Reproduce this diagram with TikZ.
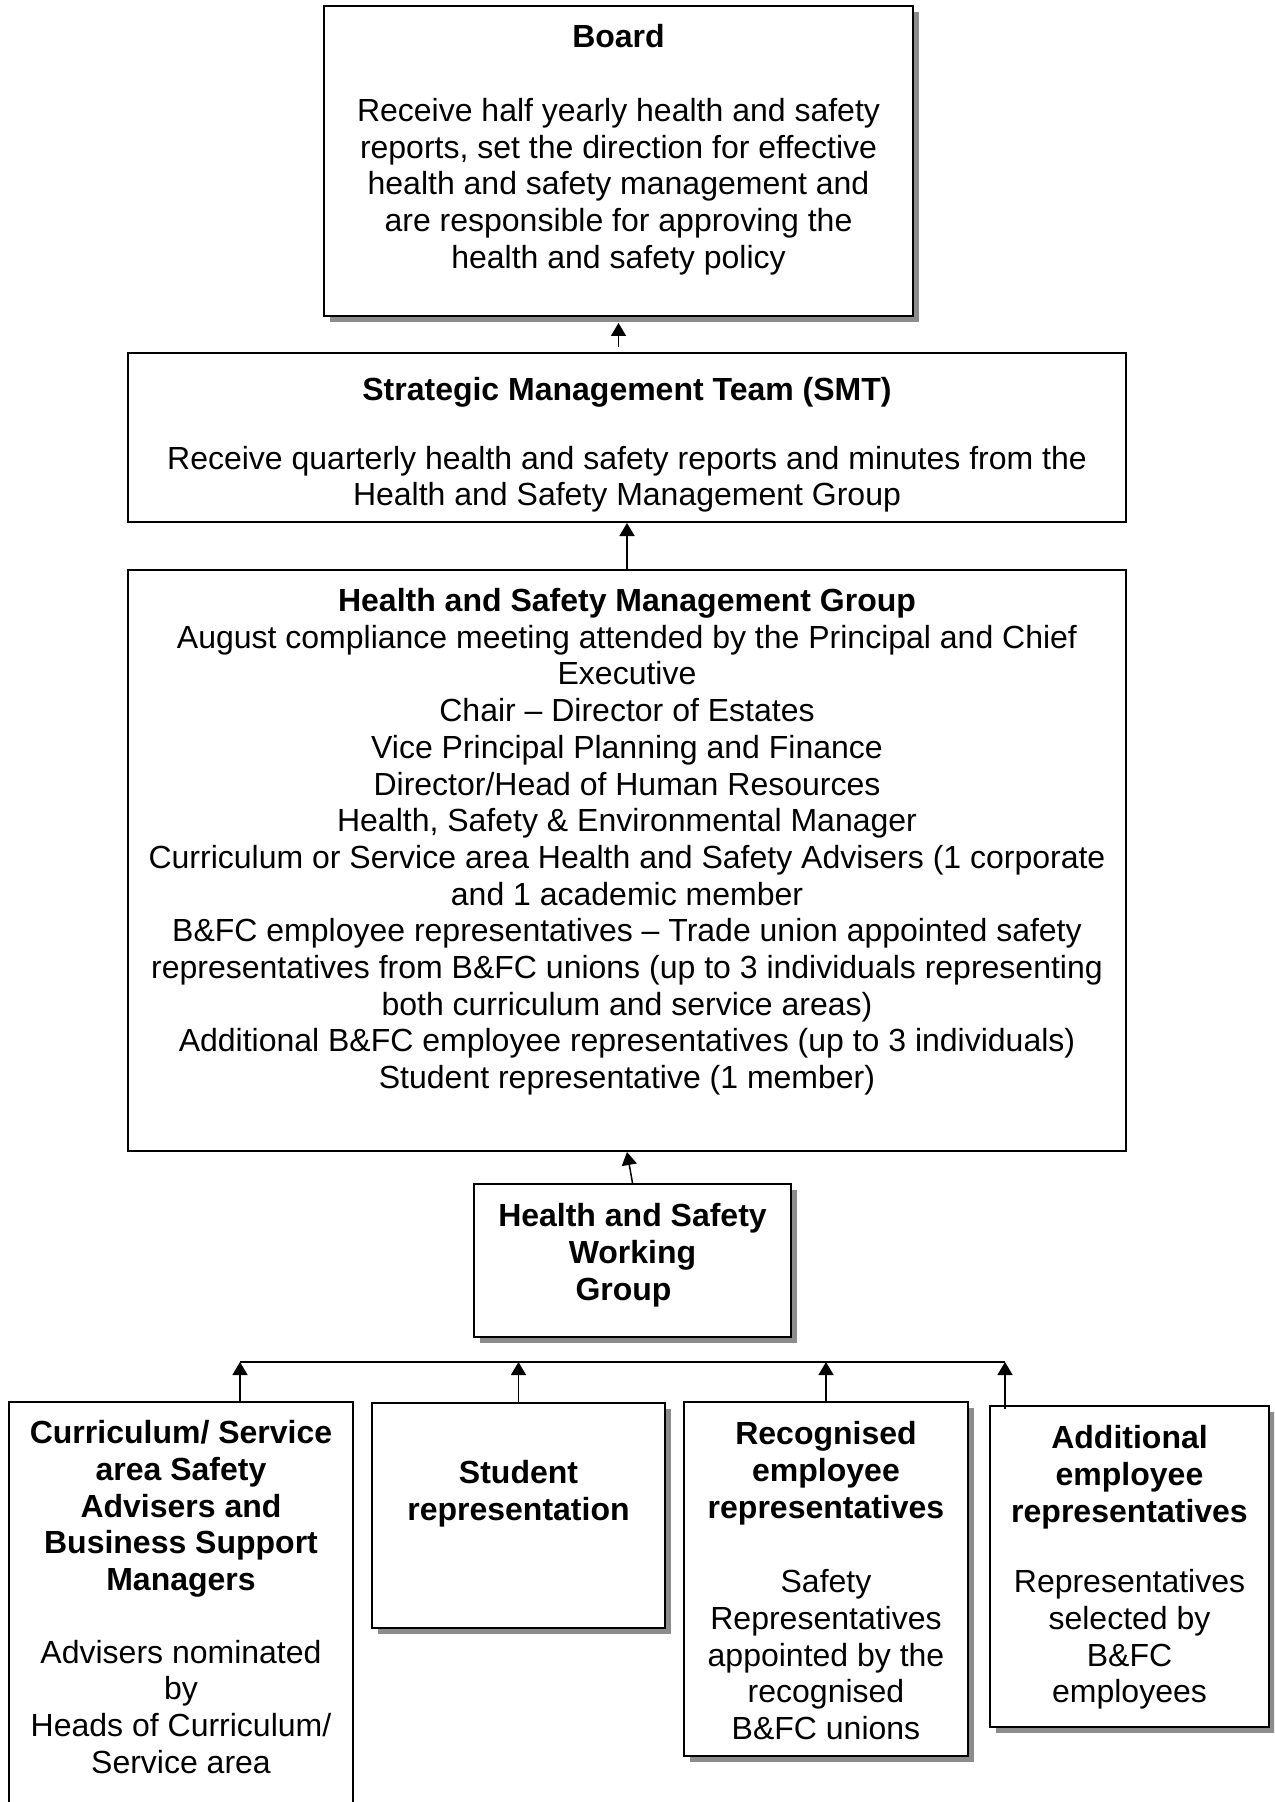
\documentclass[tikz,border=0pt]{standalone}
\usepackage{fontspec}
\setmainfont{Liberation Sans}
\usetikzlibrary{arrows.meta,shadows}
\newcommand{\bodyfont}{\fontsize{16}{18.35}\selectfont}

\begin{document}
\begin{tikzpicture}[x=0.5pt,y=-0.5pt,
  box/.style={draw=black,line width=1pt,fill=white},
  shbox/.style={box,drop shadow={shadow xshift=3pt,shadow yshift=-3pt,fill=black!45,opacity=1}},
  txt/.style={align=center,anchor=north,font=\bodyfont},
  txtb/.style={txt,font=\bodyfont\bfseries},
  arr/.style={-{Triangle[width=7.5pt,length=6.5pt]},line width=0.75pt}]
\tikzstyle{every node}+=[inner sep=0pt]
\useasboundingbox (0,0) rectangle (1274,1802);
\clip (0,0) rectangle (1274,1802);
\node[shbox,minimum width=294.5pt,minimum height=155pt] (board) at (618.5,161) {};
\node[txt] (boardtxt) at (618.5,24) {\textbf{Board}\\[18.6pt]Receive half yearly health and safety\\reports, set the direction for effective\\health and safety management and\\are responsible for approving the\\health and safety policy};
\node[box,minimum width=499pt,minimum height=84.5pt] (smt) at (627,437.5) {};
\node[txt] (smttxt) at (627,377) {\textbf{Strategic Management Team (SMT)}\\[16pt]Receive quarterly health and safety reports and minutes from the\\Health and Safety Management Group};
\node[box,minimum width=499pt,minimum height=290.5pt] (hsmg) at (627,860.5) {};
\node[txt] (hsmgtxt) at (627,588) {\textbf{Health and Safety Management Group}\\August compliance meeting attended by the Principal and Chief\\Executive\\Chair – Director of Estates\\Vice Principal Planning and Finance\\Director/Head of Human Resources\\Health, Safety \& Environmental Manager\\Curriculum or Service area Health and Safety Advisers (1 corporate\\and 1 academic member\\B\&FC employee representatives – Trade union appointed safety\\representatives from B\&FC unions (up to 3 individuals representing\\both curriculum and service areas)\\Additional B\&FC employee representatives (up to 3 individuals)\\Student representative (1 member)};
\node[shbox,minimum width=158.5pt,minimum height=76.5pt] (hswg) at (632.5,1260.5) {};
\node[txtb] (hswgtxt) at (632.5,1203) {Health and Safety\\Working\\Group\hspace*{9pt}};
\node[box,minimum width=172pt,minimum height=224pt] (cur) at (181,1626) {};
\node[txt] (curtxt) at (181,1420) {\textbf{Curriculum/ Service}\\\textbf{area Safety}\\\textbf{Advisers and}\\\textbf{Business Support}\\\textbf{Managers}\\[18pt]Advisers nominated\\by\\Heads of Curriculum/\\Service area};
\node[shbox,minimum width=146.5pt,minimum height=112.5pt] (stu) at (518.5,1515.5) {};
\node[txtb] (stutxt) at (518.5,1460) {Student\\representation};
\node[shbox,minimum width=142pt,minimum height=177pt] (rec) at (826,1579) {};
\node[txt] (rectxt) at (826,1421) {\textbf{Recognised}\\\textbf{employee}\\\textbf{representatives}\\[19pt]Safety\\Representatives\\appointed by the\\recognised\\B\&FC unions};
\node[shbox,minimum width=139.5pt,minimum height=160.5pt] (add) at (1129.5,1566.5) {};
\node[txt] (addtxt) at (1129.5,1425) {\textbf{Additional}\\\textbf{employee}\\\textbf{representatives}\\[17pt]Representatives\\selected by\\B\&FC\\employees};
\coordinate (busl) at (240,1362);
\coordinate (busr) at (1005,1362);
\draw[arr,shorten <=2.5pt,shorten >=3pt] (smt.north -| board.south) -- (board.south);
\draw[arr] (hsmg.north) -- (smt.south);
\draw[arr] (hswg.north) -- (hsmg.south);
\draw[line width=0.75pt] (busl) -- (busr);
\draw[arr] (cur.north -| busl) -- (busl);
\draw[arr] (stu.north) -- (stu.north |- busl);
\draw[arr] (rec.north) -- (rec.north |- busl);
\draw[arr] ([yshift=-2pt]add.north -| busr) -- (busr);
\end{tikzpicture}
\end{document}
